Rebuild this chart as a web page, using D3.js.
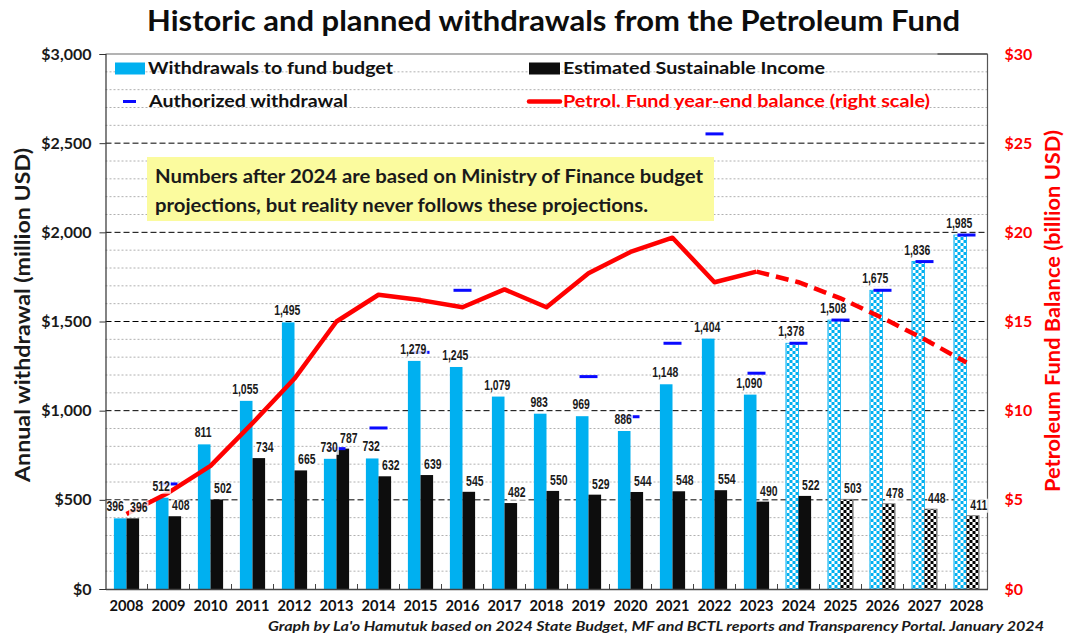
<!DOCTYPE html>
<html>
<head>
<meta charset="utf-8">
<script src="https://cdn.jsdelivr.net/npm/d3@7"></script>
<style>
  body { margin: 0; background: #fff; }
  svg { display: block; font-family: Lato, "Open Sans", sans-serif; }
</style>
</head>
<body>
<script>
// ---- data ----
const years = [2008, 2009, 2010, 2011, 2012, 2013, 2014, 2015, 2016, 2017, 2018,
               2019, 2020, 2021, 2022, 2023, 2024, 2025, 2026, 2027, 2028];
const withdrawals = [396, 512, 811, 1055, 1495, 730, 732, 1279, 1245, 1079, 983,
                     969, 886, 1148, 1404, 1090, 1378, 1508, 1675, 1836, 1985];
const sustainableIncome = [396, 408, 502, 734, 665, 787, 632, 639, 545, 482, 550,
                           529, 544, 548, 554, 490, 522, 503, 478, 448, 411];
const authorized = [null, 589, null, null, null, 787, 903, 1327, 1675, null, null,
                    1191, 966, 1378, 2552, 1210, 1378, 1508, 1675, 1836, 1985];
const fundBalance = [4.2, 5.4, 6.9, 9.3, 11.8, 15.0, 16.5, 16.2, 15.8, 16.8, 15.8,
                     17.7, 18.9, 19.7, 17.2, 17.8, 17.2, 16.3, 15.2, 14.0, 12.7];
const leftTicks = [0, 500, 1000, 1500, 2000, 2500, 3000];
const rightTicks = [0, 5, 10, 15, 20, 25, 30];
const plannedWithdrawalFrom = 2024;
const plannedIncomeFrom = 2025;
const lastActualBalance = 2023;

const title = "Historic and planned withdrawals from the Petroleum Fund";
const noteLines = ["Numbers after 2024 are based on Ministry of Finance budget",
                   "projections, but reality never follows these projections."];
const footer = "Graph by La'o Hamutuk based on 2024 State Budget, MF and BCTL reports and Transparency Portal. January 2024";

const width = 1067, height = 637;
const margin = {top: 54, right: 79.5, bottom: 48, left: 105.5};
const plotW = width - margin.left - margin.right;
const plotH = height - margin.top - margin.bottom;

const blue = "#00b0f0", red = "#ff0000", markBlue = "#0a0aff";

const svg = d3.select("body").append("svg")
    .attr("width", width)
    .attr("height", height);

const defs = svg.append("defs");
function checker(id, color) {
    const p = defs.append("pattern")
        .attr("id", id)
        .attr("patternUnits", "userSpaceOnUse")
        .attr("width", 6).attr("height", 6);
    p.append("rect").attr("width", 6).attr("height", 6).attr("fill", "#fff");
    p.append("rect").attr("width", 3).attr("height", 3).attr("fill", color);
    p.append("rect").attr("x", 3).attr("y", 3).attr("width", 3).attr("height", 3).attr("fill", color);
}
checker("blueCheck", blue);
checker("blackCheck", "#000");

const x = d3.scaleBand().domain(years).range([0, plotW]).padding(0);
const y = d3.scaleLinear().domain([0, 3000]).range([plotH, 0]);
const yR = d3.scaleLinear().domain([0, 30]).range([plotH, 0]);
const bw = x.bandwidth();
const cx = yr => x(yr) + bw / 2;

const g = svg.append("g").attr("transform", `translate(${margin.left},${margin.top})`);

// gridlines: dotted every 100, dashed every 500
g.append("g")
    .selectAll("line")
    .data(d3.range(100, 3000, 100).filter(v => v % 500 !== 0))
    .join("line")
    .attr("x1", 0).attr("x2", plotW)
    .attr("y1", d => y(d)).attr("y2", d => y(d))
    .attr("stroke", "#b0b0b0").attr("stroke-width", 1)
    .attr("stroke-dasharray", "2,2");
g.append("g")
    .selectAll("line")
    .data(leftTicks.filter(v => v > 0 && v < 3000))
    .join("line")
    .attr("x1", 0).attr("x2", plotW)
    .attr("y1", d => y(d)).attr("y2", d => y(d))
    .attr("stroke", "#000").attr("stroke-width", 1)
    .attr("stroke-dasharray", "6,3");

// plot frame
g.append("line").attr("x1", 0).attr("x2", plotW).attr("y1", 0).attr("y2", 0)
    .attr("stroke", "#9a9a9a").attr("stroke-width", 1.5);
g.append("line").attr("x1", plotW - 50).attr("x2", plotW).attr("y1", 0).attr("y2", 0)
    .attr("stroke", "#555").attr("stroke-width", 1.5);
g.append("line").attr("x1", plotW).attr("x2", plotW).attr("y1", 0).attr("y2", plotH)
    .attr("stroke", "#555").attr("stroke-width", 1.2);

// bars
const rows = years.map((yr, i) => ({
    yr, w: withdrawals[i], esi: sustainableIncome[i], auth: authorized[i], bal: fundBalance[i]
}));

g.append("g")
    .selectAll("rect")
    .data(rows)
    .join("rect")
    .attr("x", d => x(d.yr) + bw * 0.2)
    .attr("width", bw * 0.3)
    .attr("y", d => y(d.w))
    .attr("height", d => y(0) - y(d.w))
    .attr("fill", d => d.yr >= plannedWithdrawalFrom ? "url(#blueCheck)" : blue)
    .attr("stroke", d => d.yr >= plannedWithdrawalFrom ? blue : "none")
    .attr("stroke-width", 0.8);

g.append("g")
    .selectAll("rect")
    .data(rows)
    .join("rect")
    .attr("x", d => x(d.yr) + bw * 0.5)
    .attr("width", bw * 0.3)
    .attr("y", d => y(d.esi))
    .attr("height", d => y(0) - y(d.esi))
    .attr("fill", d => d.yr >= plannedIncomeFrom ? "url(#blackCheck)" : "#0d0d0d")
    .attr("stroke", d => d.yr >= plannedIncomeFrom ? "#777" : "none")
    .attr("stroke-width", 0.8);

// authorized withdrawal markers
g.append("g")
    .selectAll("rect")
    .data(rows.filter(d => d.auth != null))
    .join("rect")
    .attr("x", d => cx(d.yr) - 9)
    .attr("width", 18)
    .attr("y", d => y(d.auth) - 1.5)
    .attr("height", 3)
    .attr("fill", markBlue);

// fund balance line (right scale)
const line = d3.line().x(d => cx(d.yr)).y(d => yR(d.bal));
g.append("path")
    .datum(rows.filter(d => d.yr <= lastActualBalance))
    .attr("d", line)
    .attr("fill", "none").attr("stroke", red)
    .attr("stroke-width", 4.5).attr("stroke-linejoin", "round");
g.append("path")
    .datum(rows.filter(d => d.yr >= lastActualBalance))
    .attr("d", line)
    .attr("fill", "none").attr("stroke", red)
    .attr("stroke-width", 4.5).attr("stroke-dasharray", "13,7");

// value labels: condensed bold digits with a pale box behind
function valueLabels(data, xOf, yOf, text) {
    const items = g.append("g").selectAll("g").data(data).join("g");
    items.append("text")
        .attr("x", xOf).attr("y", yOf)
        .attr("text-anchor", "middle")
        .attr("font-family", "'Liberation Sans', Arial, sans-serif")
        .attr("font-weight", "bold")
        .attr("font-size", 14.5)
        .attr("fill", "#1a1a1a")
        .text(text);
    items.each(function () {
        const tx = d3.select(this).select("text");
        const len = tx.node().getComputedTextLength();
        tx.attr("textLength", len * 0.72).attr("lengthAdjust", "spacingAndGlyphs");
        const b = tx.node().getBBox();
        d3.select(this).insert("rect", "text")
            .attr("x", b.x - 1).attr("y", b.y + 2)
            .attr("width", b.width + 2).attr("height", b.height - 2)
            .attr("fill", "#fff").attr("fill-opacity", 0.8);
    });
}
const fmt = d3.format(",");
// when both labels of a year sit at the same height, push them apart a little
const crowded = d => Math.abs(y(d.w) - y(d.esi)) < 10 ? 4 : 0;
valueLabels(rows, d => x(d.yr) + bw * 0.35 - 1 - crowded(d), d => y(d.w) - 7, d => fmt(d.w));
valueLabels(rows, d => x(d.yr) + bw * 0.65 + 6, d => y(d.esi) - 6, d => fmt(d.esi));

// axes
const leftAxis = g.append("g")
    .call(d3.axisLeft(y).tickValues(leftTicks).tickSize(6).tickPadding(8)
        .tickFormat(d => "$" + fmt(d)));
leftAxis.select(".domain").attr("stroke", "#333").attr("stroke-width", 1.2);
leftAxis.selectAll(".tick line").attr("stroke", "#333");
leftAxis.selectAll("text")
    .attr("font-family", "Lato, sans-serif").attr("font-weight", "bold")
    .attr("font-size", 16).attr("fill", "#1a1a1a");

const rightAxis = g.append("g")
    .attr("transform", `translate(${plotW},0)`)
    .call(d3.axisRight(yR).tickValues(rightTicks).tickSize(0).tickPadding(17)
        .tickFormat(d => "$" + d));
rightAxis.select(".domain").remove();
rightAxis.selectAll("text")
    .attr("font-family", "Lato, sans-serif").attr("font-weight", "bold")
    .attr("font-size", 16).attr("fill", red);

const bottomAxis = g.append("g")
    .attr("transform", `translate(0,${plotH})`)
    .call(d3.axisBottom(x).tickSize(0).tickPadding(11));
bottomAxis.select(".domain").attr("stroke", "#444").attr("stroke-width", 1.5);
bottomAxis.selectAll("text")
    .attr("font-family", "Lato, sans-serif").attr("font-weight", "bold")
    .attr("font-size", 15).attr("fill", "#111")
    .attr("textLength", 34).attr("lengthAdjust", "spacingAndGlyphs");
// category separator ticks pointing up
g.append("g")
    .selectAll("line")
    .data(years.slice(1))
    .join("line")
    .attr("x1", d => x(d)).attr("x2", d => x(d))
    .attr("y1", plotH).attr("y2", plotH - 5)
    .attr("stroke", "#444");

// text stretched to a measured width
function fitText(parent, str, opts) {
    return parent.append("text")
        .attr("x", opts.x).attr("y", opts.y)
        .attr("text-anchor", opts.anchor || "start")
        .attr("font-size", opts.size)
        .attr("font-weight", "bold")
        .attr("font-style", opts.italic ? "italic" : "normal")
        .attr("fill", opts.fill || "#111")
        .attr("transform", opts.transform || null)
        .attr("textLength", opts.len)
        .attr("lengthAdjust", "spacingAndGlyphs")
        .text(str);
}

// title
fitText(svg, title, {x: 553.5, y: 31, anchor: "middle", size: 28, len: 813, fill: "#0d0d0d"});

// axis titles
fitText(svg, "Annual withdrawal (million USD)",
    {x: 0, y: 0, anchor: "middle", size: 20, len: 334, fill: "#1a1a1a",
     transform: "translate(30,315) rotate(-90)"});
fitText(svg, "Petroleum Fund Balance (billion USD)",
    {x: 0, y: 0, anchor: "middle", size: 20, len: 362, fill: red,
     transform: "translate(1060,311) rotate(-90)"});

// legend
const legend = svg.append("g");
legend.append("rect").attr("x", 115).attr("y", 62.5).attr("width", 30).attr("height", 12).attr("fill", blue);
fitText(legend, "Withdrawals to fund budget", {x: 148, y: 74, size: 17, len: 245});
legend.append("rect").attr("x", 123).attr("y", 100).attr("width", 13).attr("height", 3).attr("fill", markBlue);
fitText(legend, "Authorized withdrawal", {x: 149, y: 107, size: 17, len: 199});
legend.append("rect").attr("x", 529).attr("y", 62.5).attr("width", 31).attr("height", 12).attr("fill", "#0d0d0d");
fitText(legend, "Estimated Sustainable Income", {x: 563, y: 74, size: 17, len: 262});
legend.append("line").attr("x1", 529).attr("x2", 560).attr("y1", 101.5).attr("y2", 101.5)
    .attr("stroke", red).attr("stroke-width", 4.5).attr("stroke-linecap", "round");
fitText(legend, "Petrol. Fund year-end balance (right scale)", {x: 563, y: 107, size: 17, len: 367, fill: red});

// note box
const note = svg.append("g");
note.append("rect").attr("x", 147).attr("y", 157).attr("width", 567).attr("height", 64)
    .attr("fill", "#fbfb9e");
fitText(note, noteLines[0], {x: 155, y: 183, size: 19, len: 548, fill: "#1a1a1a"});
fitText(note, noteLines[1], {x: 155, y: 212, size: 19, len: 493, fill: "#1a1a1a"});

// source footer
fitText(svg, footer, {x: 268, y: 631, size: 14, len: 776, italic: true, fill: "#1a1a1a"});
</script>
</body>
</html>
